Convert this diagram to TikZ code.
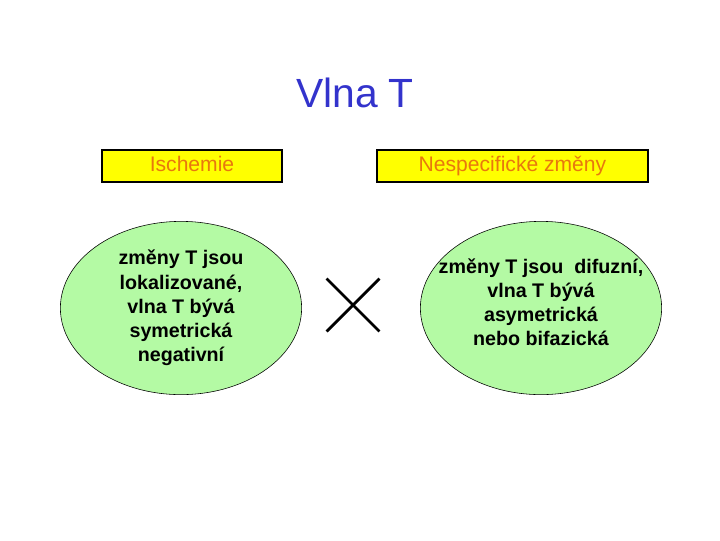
\documentclass[tikz,border=0pt]{standalone}
\usepackage{fontspec}
\setmainfont{Liberation Sans}
\usetikzlibrary{shapes.geometric,shapes.misc}
\definecolor{titleblue}{HTML}{3333CC}
\definecolor{headfill}{HTML}{FFFF00}
\definecolor{headtext}{HTML}{E8780E}
\definecolor{bubble}{HTML}{B4FAA4}

\begin{document}
\begin{tikzpicture}[
    x=0.025cm, y=-0.025cm,
    title/.style={text=titleblue, font=\fontsize{29}{32}\selectfont},
    head/.style={rectangle, draw, line width=1.3pt, fill=headfill, text=headtext,
      minimum height=0.8cm, inner sep=0pt, text height=11pt, text depth=3pt,
      font=\fontsize{15}{18}\selectfont},
    bubble/.style={ellipse, draw, thin, fill=bubble, minimum width=6.03cm,
      minimum height=4.33cm, inner sep=0pt},
    bubbletext/.style={align=center, inner sep=0pt,
      font=\fontsize{14}{17.2}\selectfont\bfseries},
  ]
  \useasboundingbox (0,0) rectangle (720,540);

  % title
  \node[title] (vlna) at (355,93) {Vlna T};

  % the two headings
  \node[head, minimum width=4.5cm]   (isch) at (192,166)   {Ischemie};
  \node[head, minimum width=6.775cm] (nesp) at (512.5,166) {Nespecifické změny};

  % the two descriptions
  \node[bubble] (lok) at (181,308) {};
  \node[bubbletext] (loktext) at (lok)
    {změny T jsou\\lokalizované,\\vlna T bývá\\symetrická\\negativní};
  \node[bubble] (dif) at (541,308) {};
  \node[bubbletext] (diftext) at ([yshift=4pt]dif)
    {změny T jsou~ difuzní,\\vlna T bývá\\asymetrická\\nebo bifazická};

  % cross between them
  \node[cross out, draw, line width=2pt, minimum width=1.25cm, minimum height=1.25cm,
    inner sep=0pt] (versus) at (353,305) {};
\end{tikzpicture}
\end{document}
